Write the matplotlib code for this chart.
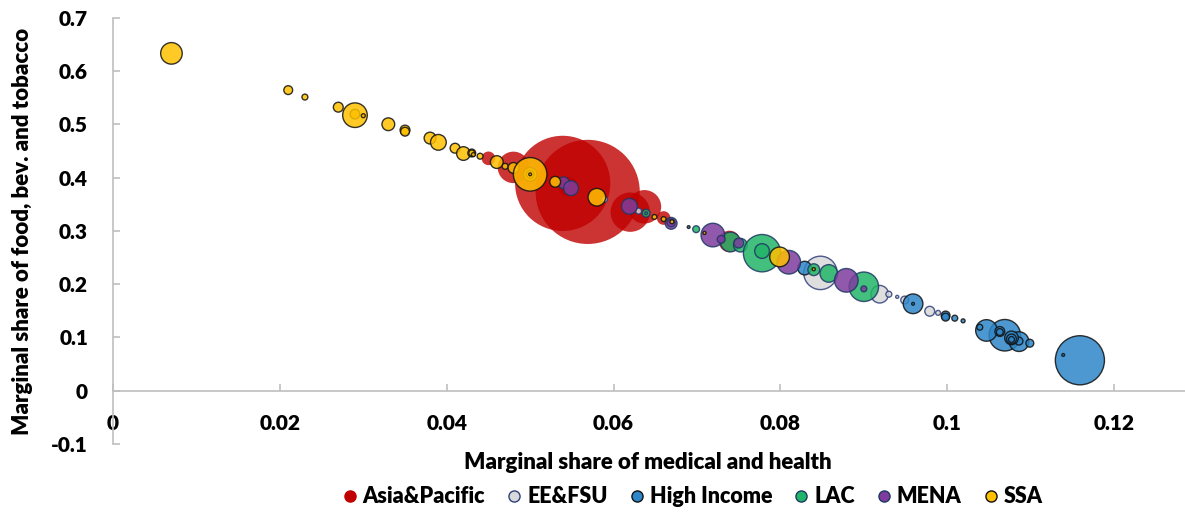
import matplotlib
matplotlib.use("Agg")
import matplotlib.pyplot as plt
from matplotlib.lines import Line2D
import numpy as np

plt.rcParams['font.family'] = ['Lato', 'DejaVu Sans']
plt.rcParams['font.weight'] = 'heavy'
WEIGHT = 'heavy'

# Marginal budget shares by country, grouped by region; size = population (millions).
# Bubbles are drawn in list order, later entries on top.
asia_x = [0.0569, 0.0539, 0.0545, 0.048, 0.045, 0.0620, 0.0637, 0.066, 0.0739]
asia_y = [0.373, 0.389, 0.383, 0.419, 0.436, 0.335, 0.345, 0.324, 0.280]
asia_pop = [1400, 1170, 50, 128, 24, 200, 145, 24, 60]

eefsu_x = [0.0589, 0.063, 0.0848, 0.0919, 0.0930, 0.0940, 0.0949, 0.0979, 0.0989]
eefsu_y = [0.359, 0.337, 0.221, 0.181, 0.181, 0.176, 0.170, 0.149, 0.146]
eefsu_pop = [4.5, 4.5, 144, 40, 4.5, 1.2, 8, 12.5, 3]

hi_x = [0.0829, 0.0959, 0.0959, 0.0998, 0.0998, 0.1009, 0.1019,
        0.1069, 0.1047, 0.1039, 0.1063, 0.1063, 0.1086, 0.1086,
        0.1077, 0.1077, 0.1077, 0.1099, 0.1159, 0.1139, 0.069]
hi_y = [0.230, 0.163, 0.163, 0.141, 0.138, 0.136, 0.131,
        0.104, 0.113, 0.119, 0.111, 0.110, 0.092, 0.093,
        0.099, 0.097, 0.096, 0.089, 0.057, 0.067, 0.307]
hi_pop = [24, 50, 1, 10, 8, 4.5, 2,
          128, 60, 4.5, 12.5, 6, 50, 8,
          24, 12.5, 4.5, 8, 311, 1, 1]

lac_x = [0.0699, 0.0639, 0.0639, 0.074, 0.0752, 0.0778, 0.0778, 0.0858, 0.084, 0.090]
lac_y = [0.303, 0.333, 0.333, 0.279, 0.273, 0.258, 0.262, 0.220, 0.227, 0.195]
lac_pop = [6, 8, 1, 50, 24, 180, 28, 40, 18, 112]

mena_x = [0.0540, 0.0549, 0.0619, 0.0669, 0.0669, 0.0719, 0.0750, 0.0729, 0.0810, 0.0879, 0.0900]
mena_y = [0.390, 0.380, 0.346, 0.314, 0.315, 0.292, 0.277, 0.284, 0.241, 0.207, 0.191]
mena_pop = [18, 28, 32, 18, 8, 72, 12.5, 8, 72, 72, 4.5]

ssa_x = [0.007, 0.021, 0.023, 0.027, 0.029, 0.029, 0.030, 0.033, 0.035, 0.035,
         0.038, 0.039, 0.041, 0.042, 0.043, 0.043, 0.0432, 0.044, 0.046, 0.047,
         0.048, 0.050, 0.050, 0.050, 0.050, 0.053, 0.058, 0.0649, 0.066, 0.067,
         0.0709, 0.0799, 0.084]
ssa_y = [0.633, 0.564, 0.551, 0.532, 0.519, 0.517, 0.516, 0.500, 0.489, 0.486,
         0.474, 0.466, 0.455, 0.445, 0.446, 0.446, 0.443, 0.440, 0.429, 0.421,
         0.418, 0.406, 0.406, 0.406, 0.406, 0.392, 0.363, 0.326, 0.322, 0.317,
         0.296, 0.251, 0.228]
ssa_pop = [60, 10, 4.5, 12.5, 12, 78, 2, 21, 12.5, 10,
           18, 32, 12.5, 24, 8, 4.5, 2, 4.5, 21, 4.5,
           15, 24, 8, 145, 1, 15, 40, 3, 3, 2,
           1.2, 50, 1.2]

regions = ["Asia&Pacific", "EE&FSU", "High Income", "LAC", "MENA", "SSA"]
series = [(asia_x, asia_y, asia_pop), (eefsu_x, eefsu_y, eefsu_pop),
          (hi_x, hi_y, hi_pop), (lac_x, lac_y, lac_pop),
          (mena_x, mena_y, mena_pop), (ssa_x, ssa_y, ssa_pop)]
faces = ["#C00000", "#D9D9D9", "#2E86C8", "#22B468", "#7E3C9E", "#FFC000"]
edges = ["none", "#2F3F7A", "#111111", "#1F3864", "#1F3864", "#111111"]
alphas = [0.8, 0.85, 0.85, 0.85, 0.85, 0.85]

POP_MAX = 1400.0
D_MAX = 75.0  # diameter in points of the largest bubble

fig = plt.figure(figsize=(11.85, 5.15), dpi=100)
ax = fig.add_axes([0.0954, 0.138, 0.9046, 0.8277])

for (xs, ys, ps), fc, ec, a in zip(series, faces, edges, alphas):
    sizes = np.array(ps, dtype=float) / POP_MAX * D_MAX ** 2
    ax.scatter(xs, ys, s=sizes, facecolor=fc, edgecolor=ec,
               linewidth=1.0 if ec != "none" else 0, alpha=a, zorder=3)

ax.set_xlim(0, 0.1285)
ax.set_ylim(-0.1, 0.7)
ax.set_xticks([0, 0.02, 0.04, 0.06, 0.08, 0.1, 0.12])
ax.set_xticklabels(["0", "0.02", "0.04", "0.06", "0.08", "0.1", "0.12"])
ax.set_yticks(np.arange(-0.1, 0.71, 0.1))
ax.set_yticklabels(["-0.1", "0", "0.1", "0.2", "0.3", "0.4", "0.5", "0.6", "0.7"])

for s in ["top", "right"]:
    ax.spines[s].set_visible(False)
ax.spines["left"].set_position(("data", 0))
ax.spines["bottom"].set_position(("data", 0))
for s in ["left", "bottom"]:
    ax.spines[s].set_color("#BFBFBF")
    ax.spines[s].set_linewidth(1.2)

ax.tick_params(axis="x", direction="in", length=5, width=1.2, color="#BFBFBF",
               pad=17, labelsize=15)
ax.tick_params(axis="y", direction="in", length=5, width=1.2, color="#BFBFBF",
               pad=18, labelsize=15)
for lab in ax.get_xticklabels() + ax.get_yticklabels():
    lab.set_fontweight(WEIGHT)

fig.text(0.547, 0.101, "Marginal share of medical and health", ha="center",
         va="center", fontsize=16, fontweight=WEIGHT)
fig.text(0.019, 0.55, "Marginal share of food, bev. and tobacco", ha="center",
         va="center", rotation=90, fontsize=16, fontweight=WEIGHT)

handles = [Line2D([], [], linestyle="none", marker="o", markersize=8,
                  markerfacecolor=fc, markeredgecolor=(ec if ec != "none" else fc),
                  markeredgewidth=1.0)
           for fc, ec in zip(faces, edges)]
fig.legend(handles, regions, loc="center", bbox_to_anchor=(0.582, 0.035),
           ncol=6, frameon=False, handletextpad=0.0, handlelength=1.2,
           columnspacing=0.75, prop={"weight": WEIGHT, "size": 15.5})

fig.savefig("out.png", dpi=100)
